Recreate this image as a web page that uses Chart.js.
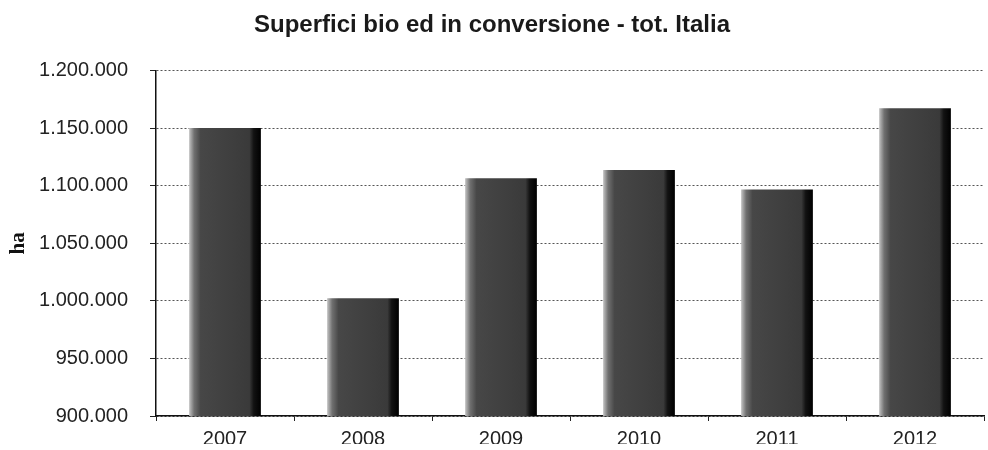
<!DOCTYPE html>
<html>
<head>
<meta charset="utf-8">
<script src="https://cdn.jsdelivr.net/npm/chart.js@4"></script>
<style>
  html, body { margin: 0; padding: 0; background: #fff; }
  #wrap { width: 988px; height: 450px; }
</style>
</head>
<body>
<div id="wrap"><canvas id="bioChart" width="988" height="450"></canvas></div>
<script>
// chart data
const years = ["2007", "2008", "2009", "2010", "2011", "2012"];
const hectares = [1150253, 1002414, 1106684, 1113742, 1096889, 1167362];
const yTicks = [900000, 950000, 1000000, 1050000, 1100000, 1150000, 1200000];

const BAR_PCT = 0.52;

function fmt(v) {
  return String(v).replace(/\B(?=(\d{3})+(?!\d))/g, ".");
}

// grey shaded bars, light on the left, black on the right edge
function barFill(ctx) {
  const chart = ctx.chart;
  const xs = chart.scales && chart.scales.x;
  if (!chart.chartArea || !xs || ctx.dataIndex === undefined) return "#404040";
  const w = (xs.width / years.length) * BAR_PCT;
  const x0 = xs.getPixelForValue(ctx.dataIndex) - w / 2;
  const g = chart.ctx.createLinearGradient(x0, 0, x0 + w, 0);
  g.addColorStop(0, "#c4c4c4");
  g.addColorStop(0.07, "#707070");
  g.addColorStop(0.16, "#474747");
  g.addColorStop(0.84, "#3a3a3a");
  g.addColorStop(0.9, "#121212");
  g.addColorStop(1, "#000");
  return g;
}

const config = {
  type: 'bar',
  data: {
    labels: years,
    datasets: [{
      label: 'ha',
      data: hectares,
      backgroundColor: barFill,
      borderWidth: 0,
      categoryPercentage: 1,
      barPercentage: BAR_PCT
    }]
  },
  options: {
    responsive: false,
    animation: false,
    layout: { padding: { left: 0, right: 4, top: 0, bottom: -3 } },
    plugins: {
      legend: { display: false },
      tooltip: { enabled: false },
      title: {
        display: true,
        text: 'Superfici bio ed in conversione - tot. Italia',
        color: '#1a1a1a',
        font: { family: 'Liberation Sans', size: 24, weight: 'bold' },
        padding: { top: 11, bottom: 31 }
      }
    },
    scales: {
      x: {
        grid: { offset: true, drawOnChartArea: false, tickLength: 5, color: '#222' },
        border: { color: '#111', width: 1.5 },
        ticks: {
          color: '#222',
          padding: 6,
          maxRotation: 0,
          font: { family: 'Liberation Sans', size: 20 }
        },
        afterFit: s => { s.height = 28; }
      },
      y: {
        min: 900000,
        max: 1200000,
        afterBuildTicks: s => { s.ticks = yTicks.map(v => ({ value: v })); },
        grid: { color: '#555', tickLength: 6, tickColor: '#222' },
        border: { color: '#111', width: 1.5, dash: [2, 2] },
        ticks: {
          color: '#222',
          padding: 22,
          font: { family: 'Liberation Sans', size: 20 },
          callback: v => fmt(v)
        },
        title: {
          display: true,
          text: 'ha',
          color: '#111',
          font: { family: 'Liberation Serif', size: 21, weight: 'bold' },
          padding: { top: 6, bottom: 0 }
        },
        afterFit: s => { s.width = 156; }
      }
    }
  }
};

new Chart(document.getElementById('bioChart'), config);
</script>
</body>
</html>
